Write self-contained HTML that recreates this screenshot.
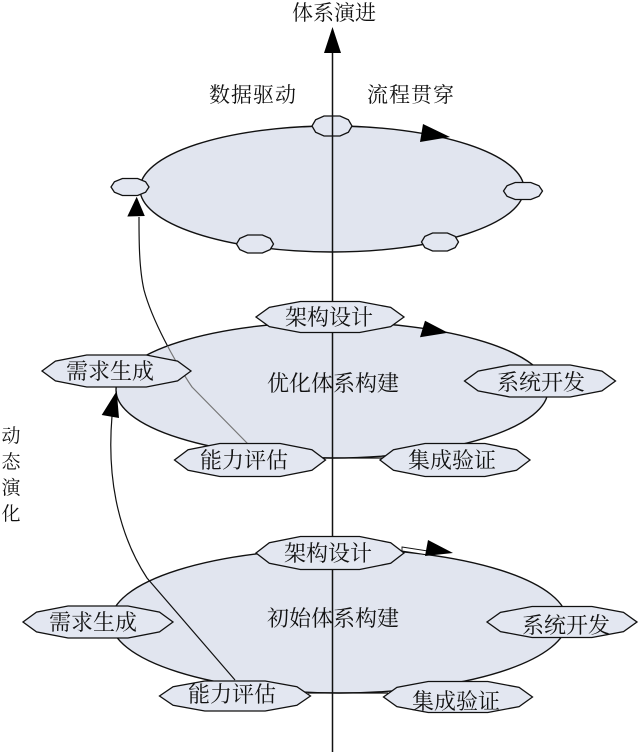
<!DOCTYPE html>
<html>
<head>
<meta charset="utf-8">
<style>
  html,body{margin:0;padding:0;background:#fff;}
  svg{display:block;}
  text{font-family:"Liberation Serif","Noto Serif CJK SC",serif;fill:#111;}
</style>
</head>
<body>
<svg width="640" height="752" viewBox="0 0 640 752" xmlns="http://www.w3.org/2000/svg">
  <defs>
    <polygon id="n" points="1,0 0.82,0.62 0.4,1 -0.4,1 -0.82,0.62 -1,0 -0.82,-0.62 -0.4,-1 0.4,-1 0.82,-0.62" fill="#e3e7f1" stroke="#111" stroke-width="1.3" vector-effect="non-scaling-stroke"/>
    <clipPath id="midClip"><ellipse cx="332" cy="390" rx="216" ry="68"/></clipPath>
  </defs>

  <!-- curves (black, under ellipses) -->
  <path d="M248,444 L192,387 C175,362 152,320 144,290 C139,268 139,240 139,217" fill="none" stroke="#111" stroke-width="1.2"/>

  <!-- ellipses -->
  <ellipse cx="332" cy="189" rx="192" ry="63" fill="#e1e5ef" stroke="#111" stroke-width="1.4"/>
  <ellipse cx="332" cy="390" rx="216" ry="68" fill="#e1e5ef" stroke="#111" stroke-width="1.4"/>
  <ellipse cx="339" cy="621" rx="228" ry="72" fill="#e1e5ef" stroke="#111" stroke-width="1.4"/>
  <line x1="322" y1="458" x2="384" y2="458" stroke="#111" stroke-width="1.3"/>
  <line x1="308" y1="693" x2="388" y2="693" stroke="#111" stroke-width="1.3"/>

  <!-- gray part of top curve inside middle ellipse -->
  <path d="M248,444 L192,387 C175,362 152,320 144,290 C139,268 139,240 139,217" fill="none" stroke="#777" stroke-width="1.2" clip-path="url(#midClip)"/>

  <!-- bottom curve -->
  <path d="M235,680 L147,578 C132,555 122,530 116,500 C110,470 110,440 112,416" fill="none" stroke="#111" stroke-width="1.2"/>
  <polygon points="116.7,391 101.7,415 119,418" fill="#000"/>
  <polygon points="136.7,196.7 127.3,216.5 144.8,216" fill="#000"/>

  <!-- top small nodes -->
  <use href="#n" transform="translate(255,244) scale(18.5,9)"/>
  <use href="#n" transform="translate(440,242) scale(18.5,9)"/>
  <use href="#n" transform="translate(130,187) scale(19,8.5)"/>
  <use href="#n" transform="translate(523,191) scale(19.5,8.5)"/>
  <use href="#n" transform="translate(332,126) scale(20,10)"/>

  <!-- axis -->
  <line x1="332.5" y1="50" x2="332.5" y2="752" stroke="#111" stroke-width="1.5"/>
  <polygon points="332.5,27 324,53 341,53" fill="#000"/>

  <!-- ellipse direction arrows -->
  <polygon points="423,124 450,137 420,142" fill="#000"/>
  <polygon points="425,320.7 448,332.7 420,337.3" fill="#000"/>
  <polygon points="402,547 428,551 428,555 402,551" fill="#fff" stroke="#111" stroke-width="0.9"/>
  <polygon points="428,540 453,553 425,556" fill="#000"/>

  <!-- middle nodes -->
  <use href="#n" transform="translate(330,317) scale(74,15.5)"/>
  <use href="#n" transform="translate(116.5,371) scale(74.5,16)"/>
  <use href="#n" transform="translate(540,381) scale(75.5,16)"/>
  <use href="#n" transform="translate(250,460) scale(75.5,16.5)"/>
  <use href="#n" transform="translate(455,460) scale(75,16.5)"/>

  <!-- bottom nodes -->
  <use href="#n" transform="translate(330,553) scale(74,16.5)"/>
  <use href="#n" transform="translate(98,622) scale(75,16)"/>
  <use href="#n" transform="translate(562,622) scale(75,15.5)"/>
  <use href="#n" transform="translate(235,696) scale(75.5,15)"/>
  <use href="#n" transform="translate(458,697) scale(74.5,15.5)"/>

  <!-- header texts -->
  <text x="334" y="20" font-size="21" text-anchor="middle">体系演进</text>
  <text x="253" y="102" font-size="21" text-anchor="middle" letter-spacing="1">数据驱动</text>
  <text x="411" y="102" font-size="21" text-anchor="middle" letter-spacing="1">流程贯穿</text>

  <!-- vertical text -->
  <text x="11" y="442" font-size="19" text-anchor="middle">动</text>
  <text x="11" y="468" font-size="19" text-anchor="middle">态</text>
  <text x="11" y="494" font-size="19" text-anchor="middle">演</text>
  <text x="11" y="520" font-size="19" text-anchor="middle">化</text>

  <!-- middle texts -->
  <text x="333" y="391" font-size="22" text-anchor="middle">优化体系构建</text>
  <text x="329" y="325" font-size="22" text-anchor="middle">架构设计</text>
  <text x="110" y="379" font-size="22" text-anchor="middle">需求生成</text>
  <text x="541" y="390" font-size="22" text-anchor="middle">系统开发</text>
  <text x="244" y="468" font-size="22" text-anchor="middle">能力评估</text>
  <text x="452" y="468" font-size="22" text-anchor="middle">集成验证</text>

  <!-- bottom texts -->
  <text x="333" y="626" font-size="22" text-anchor="middle">初始体系构建</text>
  <text x="328" y="561" font-size="22" text-anchor="middle">架构设计</text>
  <text x="93" y="630" font-size="22" text-anchor="middle">需求生成</text>
  <text x="566" y="633" font-size="22" text-anchor="middle">系统开发</text>
  <text x="232" y="702" font-size="22" text-anchor="middle">能力评估</text>
  <text x="456" y="709" font-size="22" text-anchor="middle">集成验证</text>
</svg>
</body>
</html>
